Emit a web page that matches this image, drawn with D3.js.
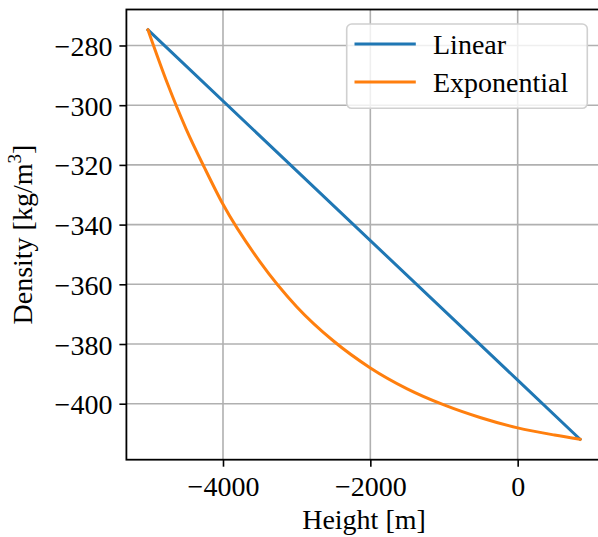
<!DOCTYPE html>
<html>
<head>
<meta charset="utf-8">
<script src="https://cdn.jsdelivr.net/npm/d3@7"></script>
<style>
  html, body { margin: 0; padding: 0; background: #fff; }
  svg { display: block; }
  text { font-family: "Liberation Serif", "Times New Roman", serif; fill: #000; }
</style>
</head>
<body>
<svg id="chart" width="598" height="537"></svg>
<script>
// ---- data ----
const linearHeight = [-5018, 0, 846];
const linearDensity = [-274.8, -392.1, -411.9];

const expHeight = [-5018, -4750, -4500, -4250, -4000, -3500, -3000, -2500, -2000, -1500, -1000, -500, 0, 500, 846];
const expDensity = [-274.8, -293.0, -308.0, -321.0, -333.2, -352.4, -367.5, -379.0, -388.0, -395.0, -400.4, -404.7, -408.1, -410.5, -411.9];

const xTicks = [-4000, -2000, 0];
const yTicks = [-280, -300, -320, -340, -360, -380, -400];
const seriesNames = ["Linear", "Exponential"];
const seriesColors = ["#1f77b4", "#ff7f0e"];

// ---- layout ----
const W = 598, H = 537;
const margin = { left: 126.4, top: 9.5, right: W - 601.6, bottom: H - 459.7 };
const svg = d3.select("#chart");
const pw = W - margin.left - margin.right;
const ph = H - margin.top - margin.bottom;

function padded(vals) {
  const [a, b] = d3.extent(vals);
  const m = (b - a) * 0.05;
  return [a - m, b + m];
}
const allX = linearHeight.concat(expHeight);
const allY = linearDensity.concat(expDensity);
const x = d3.scaleLinear().domain(padded(allX)).range([margin.left, margin.left + pw]);
const y = d3.scaleLinear().domain(padded(allY)).range([margin.top + ph, margin.top]);

const fmt = d => (d < 0 ? "\u2212" + Math.abs(d) : String(d));

// grid
const grid = svg.append("g");
grid.selectAll("line.gx").data(xTicks).join("line")
  .attr("x1", d => x(d)).attr("x2", d => x(d))
  .attr("y1", margin.top).attr("y2", margin.top + ph)
  .attr("stroke", "#b0b0b0").attr("stroke-width", 1.6);
grid.selectAll("line.gy").data(yTicks).join("line")
  .attr("y1", d => y(d)).attr("y2", d => y(d))
  .attr("x1", margin.left).attr("x2", margin.left + pw)
  .attr("stroke", "#b0b0b0").attr("stroke-width", 1.6);

// lines
const clip = svg.append("clipPath").attr("id", "clip").append("rect")
  .attr("x", margin.left).attr("y", margin.top).attr("width", pw).attr("height", ph);
const line = d3.line().x(d => x(d[0])).y(d => y(d[1]));
const linePts = linearHeight.map((h, i) => [h, linearDensity[i]]);
const expPts = expHeight.map((h, i) => [h, expDensity[i]]);

svg.append("path").datum(linePts)
  .attr("d", line)
  .attr("fill", "none").attr("stroke", seriesColors[0]).attr("stroke-width", 3)
  .attr("stroke-linecap", "square").attr("stroke-linejoin", "round");
svg.append("path").datum(expPts)
  .attr("d", line.curve(d3.curveMonotoneX))
  .attr("fill", "none").attr("stroke", seriesColors[1]).attr("stroke-width", 3)
  .attr("stroke-linecap", "square").attr("stroke-linejoin", "round");

// axes
const xAxis = d3.axisBottom(x).tickValues(xTicks).tickFormat(fmt).tickSize(7).tickPadding(0);
const yAxis = d3.axisLeft(y).tickValues(yTicks).tickFormat(fmt).tickSize(7).tickPadding(0);

const gx = svg.append("g").attr("transform", `translate(0,${margin.top + ph})`).call(xAxis);
const gy = svg.append("g").attr("transform", `translate(${margin.left},0)`).call(yAxis);
[gx, gy].forEach(g => {
  g.select(".domain").remove();
  g.selectAll(".tick line").attr("stroke", "#000").attr("stroke-width", 1.6);
  g.selectAll(".tick text").attr("font-size", 28).attr("fill", "#000")
    .style("font-family", '"Liberation Serif", serif');
});
gx.selectAll(".tick text").attr("y", 36).attr("dy", 0);
gy.selectAll(".tick text").attr("x", -14).attr("dy", 10);

// spines
svg.append("rect")
  .attr("x", margin.left).attr("y", margin.top).attr("width", pw).attr("height", ph)
  .attr("fill", "none").attr("stroke", "#000").attr("stroke-width", 1.8);

// axis labels
svg.append("text").attr("x", margin.left + pw / 2).attr("y", 529)
  .attr("text-anchor", "middle").attr("font-size", 28).text("Height [m]");

const yl = svg.append("text")
  .attr("transform", `translate(32,${margin.top + ph / 2}) rotate(-90)`)
  .attr("text-anchor", "middle").attr("font-size", 28);
yl.append("tspan").text("Density [kg/m");
yl.append("tspan").attr("font-size", 19).attr("dy", -11).text("3");
yl.append("tspan").attr("dy", 11).text("]");

// legend
const lg = svg.append("g");
lg.append("rect").attr("x", 346.7).attr("y", 24).attr("width", 240.6).attr("height", 84.3)
  .attr("rx", 5).attr("ry", 5)
  .attr("fill", "rgba(255,255,255,0.8)").attr("stroke", "#d0d0d0").attr("stroke-width", 1.6);
const rowsY = [44, 82];
seriesNames.forEach((name, i) => {
  lg.append("line").attr("x1", 356).attr("x2", 414.3).attr("y1", rowsY[i]).attr("y2", rowsY[i])
    .attr("stroke", seriesColors[i]).attr("stroke-width", 3).attr("stroke-linecap", "square");
  lg.append("text").attr("x", 433).attr("y", rowsY[i] + 10).attr("font-size", 28).text(name);
});
</script>
</body>
</html>
